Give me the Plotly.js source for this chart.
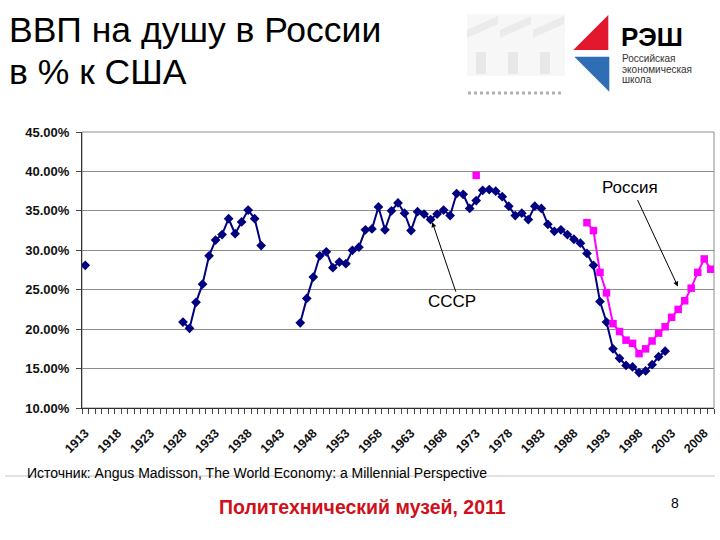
<!DOCTYPE html>
<html>
<head>
<meta charset="utf-8">
<script src="https://cdn.plot.ly/plotly-3.0.1.min.js"></script>
<style>html,body{margin:0;padding:0;background:#fff;}#chart{width:720px;height:540px;}</style>
</head>
<body>
<div id="chart"></div>
<script>
// ---- data (percent of US GDP per capita) ----
const ussrYears = [1913,
  1928,1929,1930,1931,1932,1933,1934,1935,1936,1937,1938,1939,1940,
  1946,1947,1948,1949,1950,1951,1952,1953,1954,1955,1956,1957,1958,1959,
  1960,1961,1962,1963,1964,1965,1966,1967,1968,1969,1970,1971,1972,1973,
  1974,1975,1976,1977,1978,1979,1980,1981,1982,1983,1984,1985,1986,1987,
  1988,1989,1990,1991,1992,1993,1994,1995,1996,1997,1998,1999,2000,2001,2002];
const ussrValues = [28.1,
  20.9,20.1,23.4,25.7,29.3,31.3,32.0,34.0,32.1,33.6,35.1,34.0,30.6,
  20.8,23.9,26.6,29.3,29.8,27.8,28.5,28.3,30.0,30.4,32.6,32.7,35.5,32.6,
  35.0,36.0,34.7,32.5,34.9,34.6,33.9,34.6,35.1,34.4,37.2,37.1,35.3,36.3,
  37.6,37.7,37.5,36.8,35.6,34.4,34.7,33.9,35.6,35.3,33.3,32.4,32.6,32.0,
  31.4,30.9,29.6,28.1,23.5,20.9,17.5,16.3,15.4,15.2,14.5,14.7,15.5,16.5,17.2];
const russiaYears = [1973,
  1990,1991,1992,1993,1994,1995,1996,1997,1998,1999,
  2000,2001,2002,2003,2004,2005,2006,2007,2008,2009];
const russiaValues = [39.5,
  33.5,32.5,27.2,24.6,20.7,19.7,18.6,18.2,16.9,17.5,
  18.5,19.5,20.3,21.5,22.5,23.6,25.2,27.2,28.9,27.6];
const tickYears = [1913,1918,1923,1928,1933,1938,1943,1948,1953,1958,1963,1968,1973,1978,1983,1988,1993,1998,2003,2008];

// break lines where years are not consecutive
function withGaps(xs, ys){
  const gx=[], gy=[];
  for(let i=0;i<xs.length;i++){
    if(i>0 && xs[i]-xs[i-1]>1){ gx.push((xs[i]+xs[i-1])/2); gy.push(null); }
    gx.push(xs[i]); gy.push(ys[i]);
  }
  return {x:gx, y:gy};
}
const u = withGaps(ussrYears, ussrValues);
const r = withGaps(russiaYears, russiaValues);

const traces = [
  {x:u.x, y:u.y, type:'scatter', mode:'lines+markers', connectgaps:false, name:'СССР',
   line:{color:'#000080', width:2}, marker:{symbol:'diamond', size:7.5, color:'#000080'}},
  {x:r.x, y:r.y, type:'scatter', mode:'lines+markers', connectgaps:false, name:'Россия',
   line:{color:'#FF00FF', width:2}, marker:{symbol:'square', size:7.5, color:'#FF00FF'}}
];

// pixel -> paper helpers for decoration
const PL=82, PR=714, PT=132, PB=408;
const px = x => (x-PL)/(PR-PL);
const py = y => (PB-y)/(PB-PT);

const F = 'Liberation Sans, Arial, sans-serif';

const shapes = [
  {type:'rect', xref:'paper', yref:'paper', x0:0, x1:1, y0:0, y1:1, line:{color:'#8c8c8c', width:1}, layer:'below'},
  // source separator line
  {type:'line', xref:'paper', yref:'paper', x0:px(5), x1:px(715), y0:py(476), y1:py(476), line:{color:'#c4c4c4', width:1}},
  // РЭШ logo triangles
  {type:'path', xref:'paper', yref:'paper', path:`M ${px(608.3)},${py(15)} L ${px(608.3)},${py(50)} L ${px(573.3)},${py(50)} Z`, fillcolor:'#E3172D', line:{width:0}},
  {type:'path', xref:'paper', yref:'paper', path:`M ${px(574.3)},${py(56.7)} L ${px(609.3)},${py(56.7)} L ${px(609.3)},${py(91.7)} Z`, fillcolor:'#2F6DB5', line:{width:0}},
  // faint building logo
  {type:'rect', xref:'paper', yref:'paper', x0:px(467), x1:px(565), y0:py(76), y1:py(14), fillcolor:'#f7f7f7', line:{width:0}},
  {type:'path', xref:'paper', yref:'paper', path:`M ${px(467)},${py(30)} L ${px(498)},${py(16)} L ${px(498)},${py(24)} L ${px(467)},${py(38)} Z`, fillcolor:'#ebebeb', line:{width:0}},
  {type:'path', xref:'paper', yref:'paper', path:`M ${px(500)},${py(30)} L ${px(531)},${py(16)} L ${px(531)},${py(24)} L ${px(500)},${py(38)} Z`, fillcolor:'#ebebeb', line:{width:0}},
  {type:'path', xref:'paper', yref:'paper', path:`M ${px(533)},${py(30)} L ${px(564)},${py(16)} L ${px(564)},${py(24)} L ${px(533)},${py(38)} Z`, fillcolor:'#ebebeb', line:{width:0}},
  {type:'rect', xref:'paper', yref:'paper', x0:px(476), x1:px(486), y0:py(74), y1:py(52), fillcolor:'#e8e8e8', line:{width:0}},
  {type:'rect', xref:'paper', yref:'paper', x0:px(508), x1:px(518), y0:py(74), y1:py(52), fillcolor:'#e8e8e8', line:{width:0}},
  {type:'rect', xref:'paper', yref:'paper', x0:px(540), x1:px(550), y0:py(74), y1:py(52), fillcolor:'#e8e8e8', line:{width:0}},
  {type:'line', xref:'paper', yref:'paper', x0:px(468), x1:px(563), y0:py(93), y1:py(93), line:{color:'#b0b0b0', width:3, dash:'dot'}}
];

const annotations = [
  {xref:'paper', yref:'paper', x:px(7), y:py(30), xanchor:'left', yanchor:'middle', showarrow:false,
   text:'ВВП на душу в России', font:{family:F, size:35.5, color:'#000'}},
  {xref:'paper', yref:'paper', x:px(7), y:py(72), xanchor:'left', yanchor:'middle', showarrow:false,
   text:'в % к США', font:{family:F, size:35.5, color:'#000'}},
  {xref:'paper', yref:'paper', x:px(619), y:py(37), xanchor:'left', yanchor:'middle', showarrow:false,
   text:'РЭШ', font:{family:F, size:26, color:'#000', weight:'bold'}},
  {xref:'paper', yref:'paper', x:px(620), y:py(59), xanchor:'left', yanchor:'middle', showarrow:false,
   text:'Российская', font:{family:F, size:10, color:'#333'}},
  {xref:'paper', yref:'paper', x:px(620), y:py(69), xanchor:'left', yanchor:'middle', showarrow:false,
   text:'экономическая', font:{family:F, size:10, color:'#333'}},
  {xref:'paper', yref:'paper', x:px(620), y:py(79.5), xanchor:'left', yanchor:'middle', showarrow:false,
   text:'школа', font:{family:F, size:10, color:'#333'}},
  // series labels and arrows
  {xref:'x', yref:'y', x:1996.6, y:37.9, showarrow:false, text:'Россия', font:{family:F, size:17, color:'#000'}},
  {xref:'x', yref:'y', x:2003.96, y:25.4, ax:-41, ay:-88, showarrow:true, text:'', arrowhead:2, arrowsize:1, arrowwidth:1, arrowcolor:'#000', standoff:0},
  {xref:'x', yref:'y', x:1969.3, y:23.5, showarrow:false, text:'СССР', font:{family:F, size:17, color:'#000'}},
  {xref:'x', yref:'y', x:1966.26, y:33.57, ax:24, ay:71, showarrow:true, text:'', arrowhead:2, arrowsize:1, arrowwidth:1, arrowcolor:'#000', standoff:0},
  // footer texts
  {xref:'paper', yref:'paper', x:px(25), y:py(473), xanchor:'left', yanchor:'middle', showarrow:false,
   text:'Источник: Angus Madisson, The World Economy: a Millennial Perspective', font:{family:F, size:14, color:'#000'}},
  {xref:'paper', yref:'paper', x:px(362), y:py(507), xanchor:'center', yanchor:'middle', showarrow:false,
   text:'Политехнический музей, 2011', font:{family:F, size:19.5, color:'#D0101A', weight:'bold'}},
  {xref:'paper', yref:'paper', x:px(675), y:py(503), xanchor:'center', yanchor:'middle', showarrow:false,
   text:'8', font:{family:F, size:14, color:'#000'}}
];

const layout = {
  width:720, height:540,
  margin:{l:PL, r:720-PR, t:PT, b:540-PB, pad:0},
  paper_bgcolor:'#fff', plot_bgcolor:'#fff',
  showlegend:false,
  font:{family:F},
  xaxis:{
    type:'linear', range:[1912.5, 2009.5],
    tickmode:'array', tickvals:tickYears, ticktext:tickYears.map(String),
    tickangle:-45, ticks:'', showgrid:false, zeroline:false,
    showline:true, linecolor:'#333', linewidth:1,
    ticklabelstandoff:12,
    tickfont:{family:F, size:12.5, color:'#111', weight:'bold'},
    minor:{tick0:1912.5, dtick:1, ticks:'outside', ticklen:5, tickcolor:'#444', tickwidth:1, showgrid:false}
  },
  yaxis:{
    range:[10,45], tickmode:'linear', tick0:10, dtick:5,
    tickformat:'.2f', ticksuffix:'%',
    ticks:'outside', ticklen:5, tickcolor:'#444',
    showline:true, linecolor:'#333', linewidth:1,
    gridcolor:'#8c8c8c', gridwidth:1, zeroline:false,
    tickfont:{family:F, size:13, color:'#111', weight:'bold'},
    ticklabelstandoff:4
  },
  shapes:shapes,
  annotations:annotations
};

Plotly.newPlot('chart', traces, layout, {displayModeBar:false, staticPlot:true});
</script>
</body>
</html>
